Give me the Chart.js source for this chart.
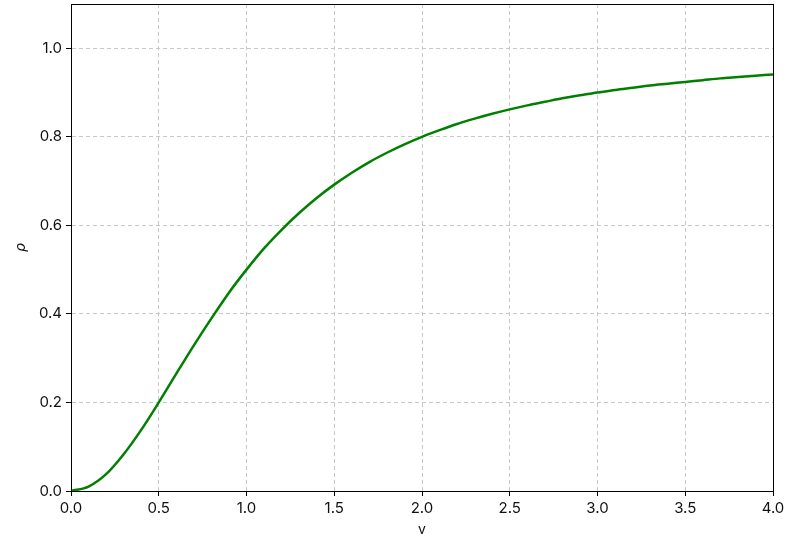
<!DOCTYPE html>
<html>
<head>
<meta charset="utf-8">
<script src="https://cdn.jsdelivr.net/npm/chart.js@4"></script>
<style>
  html, body { margin: 0; padding: 0; background: #fff; }
  #wrap { width: 800px; height: 550px; }
</style>
</head>
<body>
<div id="wrap"><canvas id="rhoChart" width="800" height="550"></canvas></div>
<script>
// values
const vValues = [0.0, 0.1, 0.2, 0.3, 0.4, 0.5, 0.6, 0.7, 0.8, 0.9,
  1.0, 1.1, 1.2, 1.3, 1.4, 1.5, 1.6, 1.7, 1.8, 1.9,
  2.0, 2.1, 2.2, 2.3, 2.4, 2.5, 2.6, 2.7, 2.8, 2.9,
  3.0, 3.1, 3.2, 3.3, 3.4, 3.5, 3.6, 3.7, 3.8, 3.9, 4.0];
const rhoValues = [0.0, 0.01, 0.038, 0.083, 0.138, 0.2, 0.265, 0.329, 0.39, 0.448,
  0.5, 0.548, 0.59, 0.628, 0.662, 0.692, 0.719, 0.743, 0.764, 0.783,
  0.8, 0.815, 0.829, 0.841, 0.852, 0.862, 0.871, 0.879, 0.887, 0.894,
  0.9, 0.906, 0.911, 0.916, 0.92, 0.924, 0.928, 0.932, 0.935, 0.938, 0.941];
const xTicks = [0.0, 0.5, 1.0, 1.5, 2.0, 2.5, 3.0, 3.5, 4.0];
const yTicks = [0.0, 0.2, 0.4, 0.6, 0.8, 1.0];

const points = vValues.map((v, i) => ({ x: v, y: rhoValues[i] }));

// black frame round the plot area
const frame = {
  id: 'frame',
  afterDraw(chart) {
    const { ctx, chartArea: a } = chart;
    ctx.save();
    ctx.setLineDash([]);
    ctx.strokeStyle = '#000';
    ctx.lineWidth = 1;
    ctx.strokeRect(Math.round(a.left) + 0.5, Math.round(a.top) + 0.5,
      Math.round(a.right - a.left), Math.round(a.bottom - a.top));
    ctx.restore();
  }
};

const tickFont = { family: 'Inter', size: 15 };
const gridOpts = {
  color: '#c8c8c8',
  tickColor: '#000',
  tickLength: 5,
  tickBorderDash: []
};
const borderOpts = { display: true, color: '#000', width: 1, dash: [4, 3] };

new Chart(document.getElementById('rhoChart'), {
  type: 'line',
  data: {
    datasets: [{
      data: points,
      borderColor: '#008000',
      borderWidth: 2.5,
      pointRadius: 0,
      cubicInterpolationMode: 'monotone',
      fill: false
    }]
  },
  options: {
    responsive: false,
    animation: false,
    layout: { padding: { top: 4, right: 27, left: 13, bottom: 12 } },
    plugins: { legend: { display: false }, tooltip: { enabled: false } },
    scales: {
      x: {
        type: 'linear',
        min: 0,
        max: 4,
        afterBuildTicks: s => { s.ticks = xTicks.map(v => ({ value: v })); },
        afterFit: s => { s.height = 47; s.paddingRight = 0; },
        grid: gridOpts,
        border: borderOpts,
        ticks: { color: '#111', font: tickFont, padding: 3, maxRotation: 0,
          callback: v => Number(v).toFixed(1) },
        title: { display: true, text: 'v', color: '#111', font: { family: 'Inter', size: 14 }, padding: 0 }
      },
      y: {
        type: 'linear',
        min: 0,
        max: 1.1,
        afterBuildTicks: s => { s.ticks = yTicks.map(v => ({ value: v })); },
        afterFit: s => { s.width = 58; s.paddingTop = 0; },
        grid: gridOpts,
        border: borderOpts,
        ticks: { color: '#111', font: tickFont, padding: 4,
          callback: v => Number(v).toFixed(1) },
        title: { display: true, text: 'ρ', color: '#111',
          font: { family: 'DejaVu Sans', size: 14, style: 'italic' }, padding: 0 }
      }
    }
  },
  plugins: [frame]
});
</script>
</body>
</html>
